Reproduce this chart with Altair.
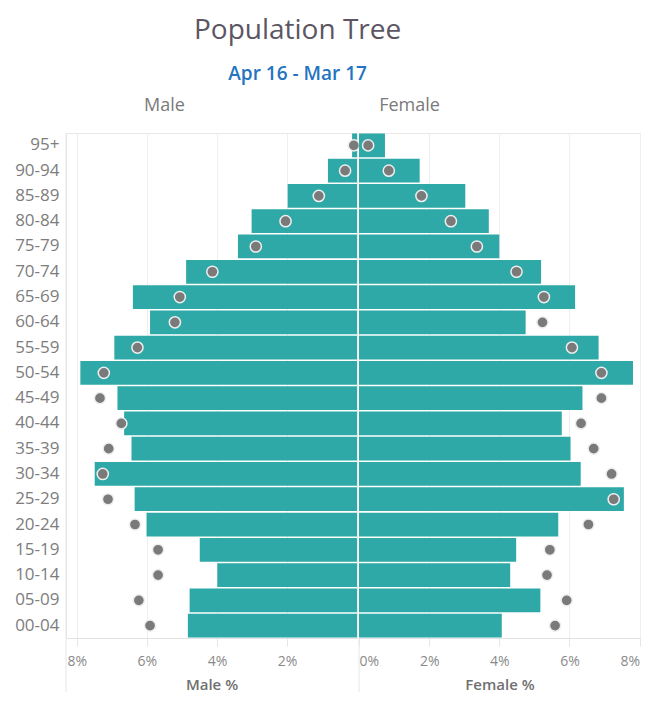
import altair as alt
import pandas as pd

ages = ["95+", "90-94", "85-89", "80-84", "75-79", "70-74", "65-69", "60-64", "55-59", "50-54",
        "45-49", "40-44", "35-39", "30-34", "25-29", "20-24", "15-19", "10-14", "05-09", "00-04"]
male_pct = [0.14, 0.83, 1.98, 3.01, 3.40, 4.88, 6.40, 5.91, 6.93, 7.90,
            6.84, 6.65, 6.44, 7.49, 6.35, 6.01, 4.49, 3.99, 4.78, 4.83]
male_ref = [0.09, 0.34, 1.09, 2.04, 2.89, 4.13, 5.06, 5.20, 6.27, 7.23,
            7.34, 6.73, 7.09, 7.26, 7.11, 6.34, 5.68, 5.68, 6.23, 5.91]
female_pct = [0.74, 1.73, 3.03, 3.70, 4.00, 5.19, 6.16, 4.75, 6.83, 7.81,
              6.37, 5.78, 6.03, 6.32, 7.55, 5.68, 4.48, 4.31, 5.17, 4.07]
female_ref = [0.26, 0.85, 1.78, 2.62, 3.36, 4.49, 5.27, 5.23, 6.07, 6.91,
              6.91, 6.33, 6.69, 7.20, 7.26, 6.54, 5.44, 5.36, 5.92, 5.59]

df = pd.DataFrame({"age": ages, "male": male_pct, "male_ref": male_ref,
                   "female": female_pct, "female_ref": female_ref})
one = pd.DataFrame({"k": [0]})

FONT = "Open Sans"
TEAL = "#2fa9a8"
GREY = "#7a7a7a"
H = 505
WL = 291
WR = 281

yscale = alt.Scale(paddingInner=0.06, paddingOuter=0.02)
y_left = alt.Y("age:N", sort=ages, scale=yscale,
               axis=alt.Axis(title=None, ticks=False, domain=False, labelFontSize=17,
                             labelColor="#7d7d7d", labelPadding=7, labelFont=FONT))
y_right = alt.Y("age:N", sort=ages, scale=yscale, axis=None)


def xaxis(title, values, flush=None):
    kw = dict(values=values, labelExpr="datum.value + '%'", title=title, grid=True,
              gridColor="#efefef", tickColor="#e6e6e6", tickSize=8, domainColor="#e3e3e3",
              labelFont=FONT, labelFontSize=14, labelColor="#8a8a8a", labelPadding=8,
              titleFont=FONT, titleFontSize=15, titleFontWeight=600, titleColor="#707070",
              titlePadding=9)
    if flush is not None:
        kw["labelFlush"] = flush
    return alt.Axis(**kw)


xl_scale = alt.Scale(domain=[0, 8.31], reverse=True, nice=False)
xr_scale = alt.Scale(domain=[0, 8.01], nice=False)
xl_axis = xaxis("Male %", [2, 4, 6, 8])
xr_axis = xaxis("Female %", [0, 2, 4, 6, 8], flush=8)

border_l = alt.Chart(one).mark_rule(color="#e6e6e6").encode(
    x=alt.value(0), y=alt.value(0), y2=alt.value(H + 54))
border_r = alt.Chart(one).mark_rule(color="#e6e6e6").encode(
    x=alt.value(0), y=alt.value(H), y2=alt.value(H + 54))

bars_l = alt.Chart(df).mark_bar(color=TEAL).encode(
    x=alt.X("male:Q", scale=xl_scale, axis=xl_axis), y=y_left)
dots_l = alt.Chart(df).mark_circle(fill=GREY, stroke="#eeeeee", strokeWidth=1.5, size=125, opacity=1).encode(
    x=alt.X("male_ref:Q", scale=xl_scale, axis=xl_axis), y=y_left)

bars_r = alt.Chart(df).mark_bar(color=TEAL).encode(
    x=alt.X("female:Q", scale=xr_scale, axis=xr_axis), y=y_right)
dots_r = alt.Chart(df).mark_circle(fill=GREY, stroke="#eeeeee", strokeWidth=1.5, size=125, opacity=1).encode(
    x=alt.X("female_ref:Q", scale=xr_scale, axis=xr_axis), y=y_right)

left = alt.layer(border_l, bars_l, dots_l).properties(
    width=WL, height=H,
    title=alt.TitleParams("Male", anchor="middle", dx=-47, fontSize=18, color="#7a7a7a",
                          font=FONT, fontWeight="normal", offset=18))
right = alt.layer(border_r, bars_r, dots_r).properties(
    width=WR, height=H,
    title=alt.TitleParams("Female", anchor="middle", dx=-90, fontSize=18, color="#7a7a7a",
                          font=FONT, fontWeight="normal", offset=18))

chart = alt.hconcat(left, right, spacing=2, bounds="flush").properties(
    title=alt.TitleParams("Population Tree", subtitle="Apr 16 - Mar 17", anchor="middle", dx=-30,
                          font=FONT, fontSize=28, fontWeight="normal", color="#5c5662",
                          subtitleFont=FONT, subtitleFontSize=19, subtitleFontWeight=600,
                          subtitleColor="#2474c0", subtitlePadding=20, offset=12),
    padding={"left": 6, "top": 9, "right": 0, "bottom": 0},
).configure_view(stroke="#e8e8e8")

chart.save("out.html", embed_options={"renderer": "svg", "actions": False})
